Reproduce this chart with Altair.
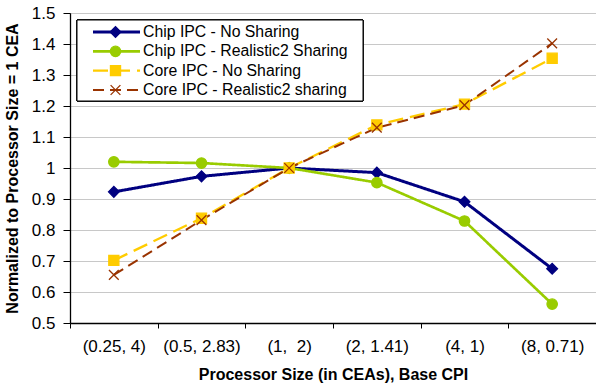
import altair as alt
import pandas as pd

categories = ["(0.25, 4)", "(0.5, 2.83)", "(1,\u00a0 2)", "(2, 1.41)", "(4, 1)", "(8, 0.71)"]
series_names = [
    "Chip IPC - No Sharing",
    "Chip IPC - Realistic2 Sharing",
    "Core IPC - No Sharing",
    "Core IPC - Realistic2 sharing",
]
chip_no_sharing = [0.923, 0.973, 1.0, 0.985, 0.891, 0.675]
chip_realistic2 = [1.02, 1.016, 1.0, 0.953, 0.829, 0.561]
core_no_sharing = [0.702, 0.838, 1.0, 1.139, 1.206, 1.354]
core_realistic2 = [0.655, 0.832, 1.0, 1.13, 1.203, 1.402]
y_ticks = [0.5, 0.6, 0.7, 0.8, 0.9, 1.0, 1.1, 1.2, 1.3, 1.4, 1.5]

colors = ["#000080", "#99CC00", "#FFCC00", "#993300"]
dashes = [[1, 0], [1, 0], [15, 7], [11, 6]]
widths = [3, 2, 4, 2.5]
shapes = ["diamond", "circle", "square", "M-1,-1L1,1M-1,1L1,-1"]
sizes = [115, 95, 130, 170]

rows = []
for name, vals in zip(series_names, [chip_no_sharing, chip_realistic2, core_no_sharing, core_realistic2]):
    for c, v in zip(categories, vals):
        rows.append({"series": name, "cat": c, "value": v})
df = pd.DataFrame(rows)
legend_df = pd.DataFrame({"series": series_names, "row": list(range(len(series_names)))})

FONT = "Liberation Sans"

color_enc = alt.Color("series:N", scale=alt.Scale(domain=series_names, range=colors), legend=None)
stroke_enc = alt.Stroke("series:N", scale=alt.Scale(domain=series_names, range=colors), legend=None)
dash_enc = alt.StrokeDash("series:N", scale=alt.Scale(domain=series_names, range=dashes), legend=None)
width_enc = alt.StrokeWidth("series:N", scale=alt.Scale(domain=series_names, range=widths), legend=None)
shape_enc = alt.Shape("series:N", scale=alt.Scale(domain=series_names, range=shapes), legend=None)
size_enc = alt.Size("series:N", scale=alt.Scale(domain=series_names, range=sizes), legend=None)

x_enc = alt.X(
    "cat:N",
    sort=categories,
    scale=alt.Scale(type="point", padding=0.5),
    axis=alt.Axis(
        title="Processor Size (in CEAs), Base CPI",
        labelAngle=0,
        grid=False,
        tickOffset=-43.83,
        labelOffset=43.83,
        tickSize=5,
        labelPadding=10,
        labelFontSize=17,
        titleFontSize=16,
        titleFontWeight="bold",
        titleY=56,
        titleBaseline="alphabetic",
    ),
)
y_enc = alt.Y(
    "value:Q",
    scale=alt.Scale(domain=[0.5, 1.5], nice=False, zero=False),
    axis=alt.Axis(
        title="Normalized to Processor Size = 1 CEA",
        values=y_ticks,
        format=".1~f",
        grid=True,
        gridColor="#c8c8c8",
        tickSize=7,
        labelPadding=8,
        labelFontSize=17,
        titleFontSize=16,
        titleFontWeight="bold",
        titleX=-58,
        titleY=155,
        titleBaseline="middle",
        titleAlign="center",
    ),
)

lines = alt.Chart(df).mark_line().encode(
    x=x_enc, y=y_enc, color=color_enc, strokeDash=dash_enc, strokeWidth=width_enc
)
points = alt.Chart(df).mark_point(filled=True, opacity=1, strokeWidth=1.3).encode(
    x=x_enc, y=y_enc, color=color_enc, stroke=stroke_enc, shape=shape_enc, size=size_enc
)
data_layer = alt.layer(lines, points)

row_y = alt.Y("row:Q", scale=alt.Scale(domain=[0, 3], range=[19, 77]), axis=None)

box = alt.Chart(legend_df).mark_rect(fill="white", stroke="black", strokeWidth=1).encode(
    x=alt.value(7), x2=alt.value(293), y=alt.value(7), y2=alt.value(88)
)
leg_lines = alt.Chart(legend_df).mark_rule().encode(
    x=alt.value(23), x2=alt.value(70), y=row_y,
    color=color_enc, strokeDash=dash_enc, strokeWidth=width_enc,
)
leg_points = alt.Chart(legend_df).mark_point(filled=True, opacity=1, strokeWidth=1.3).encode(
    x=alt.value(45.5), y=row_y, color=color_enc, stroke=stroke_enc, shape=shape_enc, size=size_enc
)
leg_text = alt.Chart(legend_df).mark_text(
    align="left", baseline="middle", fontSize=15.8, font=FONT, color="black"
).encode(x=alt.value(73), y=row_y, text="series:N")
legend_layer = alt.layer(box, leg_lines, leg_points, leg_text)

chart = (
    alt.layer(data_layer, legend_layer)
    .resolve_scale(y="independent")
    .properties(
        width=526,
        height=310,
        autosize=alt.AutoSizeParams(type="none"),
        padding={"left": 70, "top": 13, "right": 0, "bottom": 64},
        background="white",
    )
    .configure_view(stroke="#808080", strokeWidth=1)
    .configure_axis(
        domainColor="black",
        tickColor="black",
        labelColor="black",
        titleColor="black",
        labelFont=FONT,
        titleFont=FONT,
        domainWidth=1.3,
    )
)

chart.save("out.html", embed_options={"renderer": "svg", "actions": False})
